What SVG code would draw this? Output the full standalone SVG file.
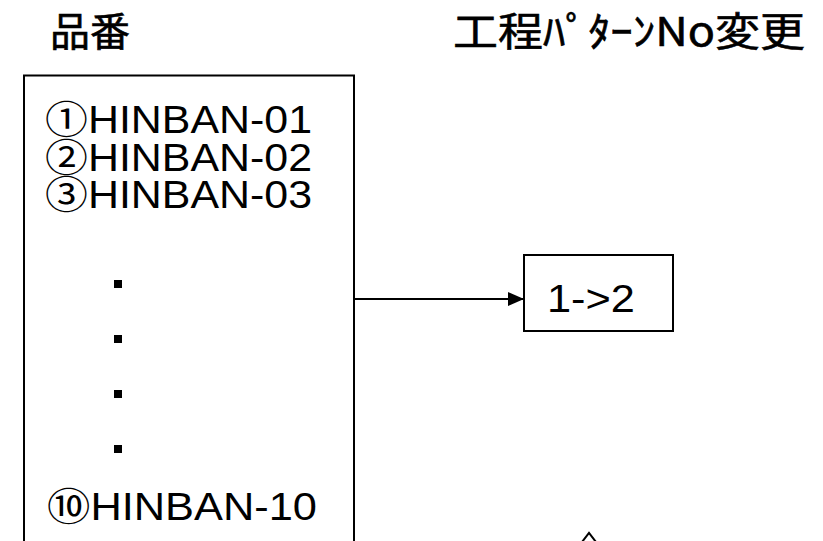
<svg xmlns="http://www.w3.org/2000/svg" width="823" height="541" viewBox="0 0 823 541">
<style>
.t{font-family:"Liberation Sans","Noto Sans CJK JP",sans-serif;font-size:38px;fill:#000}
.h{font-family:"Noto Sans CJK JP",sans-serif;font-size:40px;fill:#000;stroke:#000;stroke-width:0.6}
.box{fill:#fff;stroke:#000;stroke-width:2}
.ln{fill:none;stroke:#000;stroke-width:2}
</style>
<defs>
<marker id="ah" markerWidth="16" markerHeight="14" refX="16" refY="7" orient="auto" markerUnits="userSpaceOnUse">
<path d="M0,0 L16,7 L0,14 Z" fill="#000"/>
</marker>
</defs>
<rect width="823" height="541" fill="#fff"/>
<g id="header-hinban"><text class="h" x="50" y="46" textLength="80" lengthAdjust="spacingAndGlyphs">品番</text></g>
<g id="header-change"><text class="h" x="453" y="46" textLength="352" lengthAdjust="spacingAndGlyphs">工程ﾊﾟﾀｰﾝNo変更</text></g>
<g id="list">
<rect class="box" x="24" y="75.5" width="330" height="480"/>
<text class="t" x="45" y="133" textLength="267" lengthAdjust="spacingAndGlyphs">①HINBAN-01</text>
<text class="t" x="45" y="170.5" textLength="267" lengthAdjust="spacingAndGlyphs">②HINBAN-02</text>
<text class="t" x="45" y="208" textLength="267" lengthAdjust="spacingAndGlyphs">③HINBAN-03</text>
<rect x="114" y="280" width="8" height="8" fill="#000"/>
<rect x="114" y="335" width="8" height="8" fill="#000"/>
<rect x="114" y="390" width="8" height="8" fill="#000"/>
<rect x="114" y="445" width="8" height="8" fill="#000"/>
<text class="t" x="47" y="520" textLength="270" lengthAdjust="spacingAndGlyphs">⑩HINBAN-10</text>
</g>
<g id="pattern">
<rect class="box" x="524" y="255" width="149" height="76"/>
<text class="t" x="547" y="312" textLength="88" lengthAdjust="spacingAndGlyphs">1-&gt;2</text>
</g>
<g id="connectors">
<line class="ln" x1="354" y1="299" x2="524" y2="299" marker-end="url(#ah)"/>
<polyline class="ln" points="582,542 589,533 596,542"/>
</g>
</svg>
